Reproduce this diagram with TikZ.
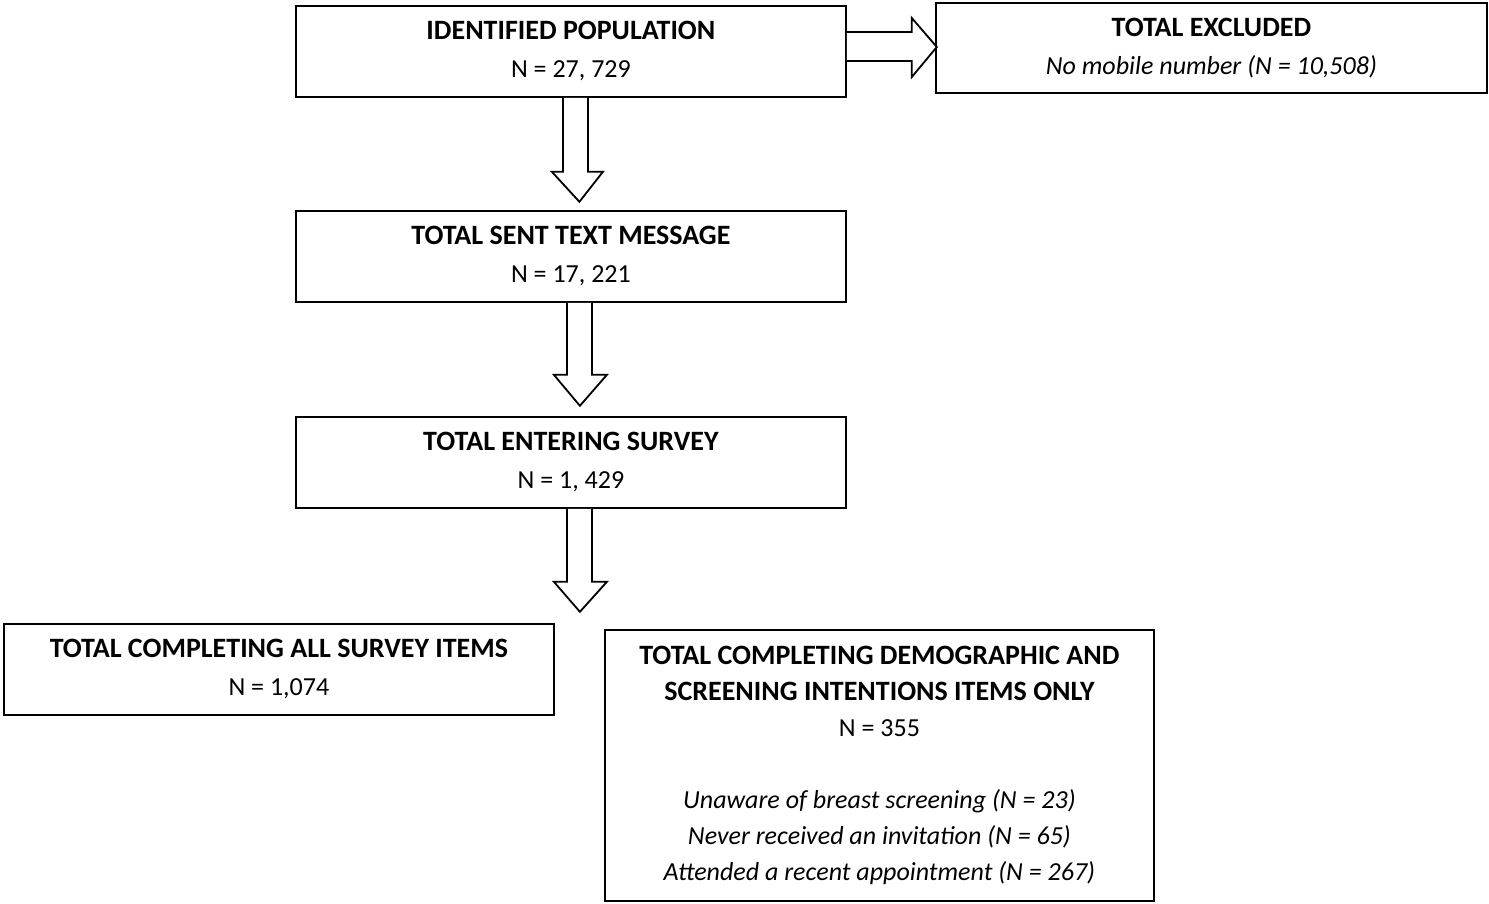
\documentclass[tikz,border=0pt]{standalone}
\usepackage{fontspec}
\setmainfont{Carlito}
\usetikzlibrary{calc}
\newcommand{\ttl}[1]{{\fontsize{14}{18}\selectfont\bfseries #1}}
\begin{document}
\begin{tikzpicture}[x=0.5pt,y=-0.5pt,
  box/.style={draw, line width=0.9pt, anchor=north west, inner sep=0pt, align=center,
    font=\fontsize{13}{18}\selectfont},
  barrow/.style={draw, line width=0.9pt, fill=white, line join=miter}]
\useasboundingbox (0,0) rectangle (1489,904);
\node[box, minimum width=275pt, minimum height=45.5pt] (pop) at (295,5)
  {\ttl{IDENTIFIED POPULATION}\\[1pt]N = 27, 729};
\node[box, minimum width=275.5pt, minimum height=45pt] (excl) at (935,2)
  {\ttl{TOTAL EXCLUDED}\\[1pt]\textit{No mobile number (N = 10,508)}};
\node[box, minimum width=275pt, minimum height=45.5pt] (sent) at (295,210)
  {\ttl{TOTAL SENT TEXT MESSAGE}\\[1pt]N = 17, 221};
\node[box, minimum width=275pt, minimum height=45.5pt] (enter) at (295,416)
  {\ttl{TOTAL ENTERING SURVEY}\\[1pt]N = 1, 429};
\node[box, minimum width=275pt, minimum height=45.5pt] (all) at (3,623)
  {\ttl{TOTAL COMPLETING ALL SURVEY ITEMS}\\[1pt]N = 1,074};
\node[box, minimum width=274.5pt, minimum height=135.5pt] (demo) at (604,629)
  {\ttl{TOTAL COMPLETING DEMOGRAPHIC AND}\\\ttl{SCREENING INTENTIONS ITEMS ONLY}\\N = 355\\[18pt]
   \textit{Unaware of breast screening (N = 23)}\\\textit{Never received an invitation (N = 65)}\\\textit{Attended a recent appointment (N = 267)}};
% right block arrow
\draw[barrow] (pop.north east) ++(0,27) -- ++(65,0) -- ++(0,-14) -- ++(25,29) -- ++(-25,30) -- ++(0,-16) -- ++(-65,0);
% down block arrows
\draw[barrow] (pop.south) ++(-8,0) -- ++(0,74) -- ++(-11,0) -- ++(27.5,30) -- ++(23.5,-30) -- ++(-15,0) -- ++(0,-74);
\draw[barrow] (sent.south) ++(-4,0) -- ++(0,72) -- ++(-13,0) -- ++(26,31) -- ++(27,-31) -- ++(-15,0) -- ++(0,-72);
\draw[barrow] (enter.south) ++(-4,0) -- ++(0,73) -- ++(-13,0) -- ++(26,30) -- ++(27,-30) -- ++(-15,0) -- ++(0,-73);
\end{tikzpicture}
\end{document}
